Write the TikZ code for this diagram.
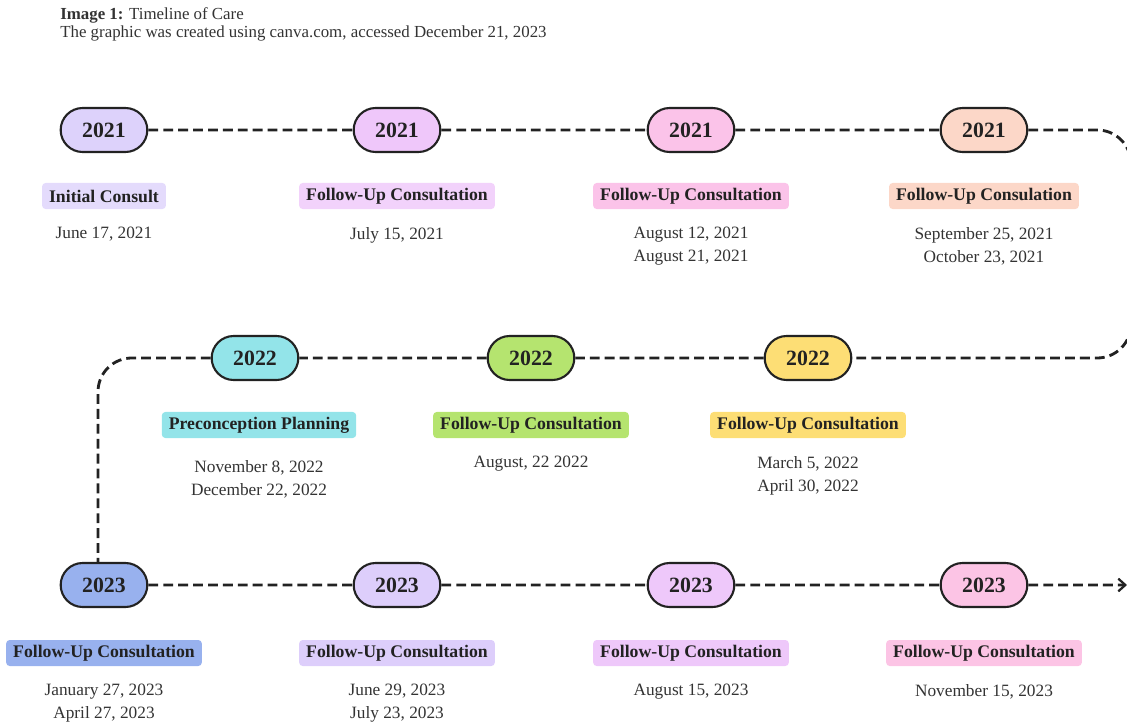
\documentclass[tikz,border=0pt]{standalone}
\usepackage{fontspec}
\setmainfont{Liberation Serif}
\usetikzlibrary{positioning,arrows.meta,shapes.misc}
\definecolor{ink}{HTML}{222222}
\definecolor{dateGray}{HTML}{333333}
\definecolor{lilacA}{HTML}{DDD2FB}
\definecolor{orchidA}{HTML}{EFC7FA}
\definecolor{pinkA}{HTML}{FBC3E9}
\definecolor{peachA}{HTML}{FCD7C8}
\definecolor{cyanB}{HTML}{93E4E9}
\definecolor{greenB}{HTML}{B5E46F}
\definecolor{yellowB}{HTML}{FDDE75}
\definecolor{blueC}{HTML}{98B1EE}
\definecolor{lilacC}{HTML}{DDCEFB}
\definecolor{orchidC}{HTML}{EEC8FA}
\definecolor{pinkC}{HTML}{FCC4E5}
\tikzset{
  pill/.style={draw=ink, line width=1.5pt, rounded rectangle, minimum width=2.4cm, minimum height=1.1cm, font=\fontsize{15.5}{17}\selectfont\bfseries, text=ink},
  tag/.style={rounded corners=2.5pt, inner xsep=5pt, inner ysep=0pt, minimum height=0.65cm, font=\fontsize{12.6}{14}\selectfont\bfseries, text=ink},
  dates/.style={align=center, inner sep=0pt, anchor=north, font=\fontsize{12.3}{16.4}\selectfont, text=dateGray},
  link/.style={draw=ink, line width=2pt, dash pattern=on 7pt off 3.6pt}
}

\begin{document}
\begin{tikzpicture}[x=0.025cm, y=-0.025cm]
  \useasboundingbox (0,0) rectangle (1127,723);
  \node[anchor=north west, align=left, inner sep=0pt, text=dateGray, font=\fontsize{12}{12.8}\selectfont] (title) at (60,7)
    {\textbf{Image 1:} Timeline of Care\\The graphic was created using canva.com, accessed December 21, 2023};

  % 2021 row
  \node[pill, fill=lilacA] (a1) at (104,130) {2021};
  \node[pill, fill=orchidA] (a2) at (397,130) {2021};
  \node[pill, fill=pinkA] (a3) at (691,130) {2021};
  \node[pill, fill=peachA] (a4) at (984,130) {2021};
  \node[tag, fill=lilacA!80!white] (la1) at (104,196) {Initial Consult};
  \node[tag, fill=orchidA!80!white] (la2) at (397,196) {Follow-Up Consultation};
  \node[tag, fill=pinkA] (la3) at (691,196) {Follow-Up Consultation};
  \node[tag, fill=peachA] (la4) at (984,196) {Follow-Up Consulation};
  \node[dates] (da1) at (104,227) {June 17, 2021};
  \node[dates] (da2) at (397,227) {July 15, 2021};
  \node[dates] (da3) at (691,227) {August 12, 2021\\August 21, 2021};
  \node[dates] (da4) at (984,227) {September 25, 2021\\October 23, 2021};

  % 2022 row
  \node[pill, fill=cyanB] (b1) at (255,358) {2022};
  \node[pill, fill=greenB] (b2) at (531,358) {2022};
  \node[pill, fill=yellowB] (b3) at (808,358) {2022};
  \node[tag, fill=cyanB] (lb1) at (259,425) {Preconception Planning};
  \node[tag, fill=greenB] (lb2) at (531,425) {Follow-Up Consultation};
  \node[tag, fill=yellowB] (lb3) at (808,425) {Follow-Up Consultation};
  \node[dates] (db1) at (259,460) {November 8, 2022\\December 22, 2022};
  \node[dates] (db2) at (531,456) {August, 22 2022};
  \node[dates] (db3) at (808,456) {March 5, 2022\\April 30, 2022};

  % 2023 row
  \node[pill, fill=blueC] (c1) at (104,585) {2023};
  \node[pill, fill=lilacC] (c2) at (397,585) {2023};
  \node[pill, fill=orchidC] (c3) at (691,585) {2023};
  \node[pill, fill=pinkC] (c4) at (984,585) {2023};
  \node[tag, fill=blueC] (lc1) at (104,653) {Follow-Up Consultation};
  \node[tag, fill=lilacC] (lc2) at (397,653) {Follow-Up Consultation};
  \node[tag, fill=orchidC] (lc3) at (691,653) {Follow-Up Consultation};
  \node[tag, fill=pinkC] (lc4) at (984,653) {Follow-Up Consultation};
  \node[dates] (dc1) at (104,684) {January 27, 2023\\April 27, 2023};
  \node[dates] (dc2) at (397,684) {June 29, 2023\\July 23, 2023};
  \node[dates] (dc3) at (691,684) {August 15, 2023};
  \node[dates] (dc4) at (984,684) {November 15, 2023};

  % turning points of the path
  \coordinate (turnA) at (1131,130);
  \coordinate (turnB) at (1131,358);
  \coordinate (turnL) at (98,358);
  \coordinate (arrowEnd) at (1127,585);

  % connectors
  \draw[link] (a1) -- (a2);
  \draw[link] (a2) -- (a3);
  \draw[link] (a3) -- (a4);
  \draw[link, rounded corners=24] (a4) -- (turnA) -- (turnB) -- (b3);
  \draw[link] (b3) -- (b2);
  \draw[link] (b2) -- (b1);
  \draw[link, rounded corners=24] (b1) -- (turnL) -- (turnL |- c1.north);
  \draw[link] (c1) -- (c2);
  \draw[link] (c2) -- (c3);
  \draw[link] (c3) -- (c4);
  \draw[link, -{Straight Barb[length=5pt, width=9pt, line width=1.6pt]}] (c4) -- (arrowEnd);
\end{tikzpicture}
\end{document}
